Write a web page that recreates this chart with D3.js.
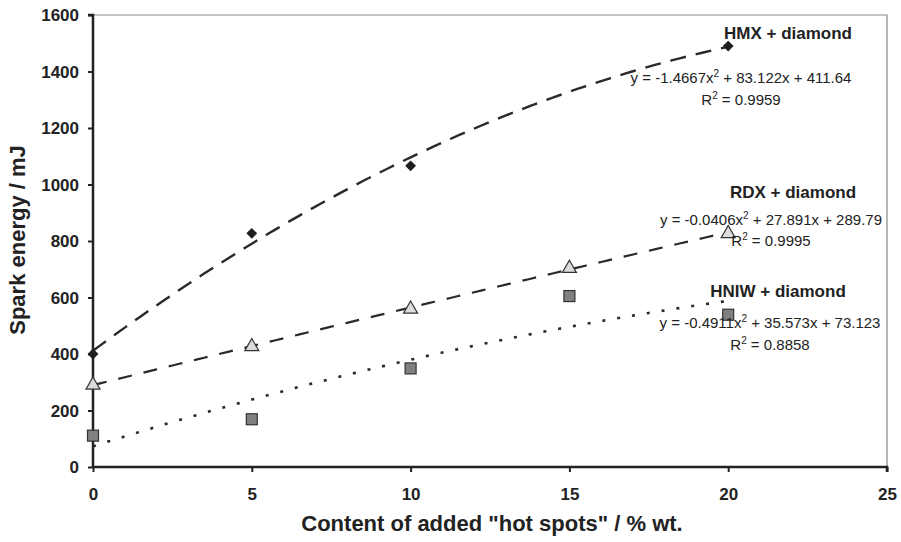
<!DOCTYPE html>
<html>
<head>
<meta charset="utf-8">
<script src="https://cdn.jsdelivr.net/npm/d3@7"></script>
<style>
  body { margin: 0; background: #fff; }
  text { font-family: "Liberation Sans", Arial, sans-serif; fill: #222; }
</style>
</head>
<body>
<div id="container"></div>
<script>
var w = 901, h = 542;

// data
var content = [0, 5, 10, 15, 20];
var hmx  = [400, 827, 1066, null, 1490];
var rdx  = [290, 426, 559, 703, 826];
var hniw = [111, 169, 349, 605, 539];

// trendline coefficients [a, b, c] for y = a x^2 + b x + c
var hmxFit  = [-1.4667, 83.122, 411.64];
var rdxFit  = [-0.0406, 27.891, 289.79];
var hniwFit = [-0.4911, 35.573, 73.123];

var xTicks = [0, 5, 10, 15, 20, 25];
var yTicks = [0, 200, 400, 600, 800, 1000, 1200, 1400, 1600];

var svg = d3.select("#container").append("svg")
  .attr("width", w).attr("height", h);

var x = d3.scaleLinear().domain([0, 25]).range([93, 887]);
var y = d3.scaleLinear().domain([0, 1600]).range([467, 15]);

// frame: grey top/right
svg.append("path")
  .attr("d", "M" + x(0) + "," + y(1600) + "H" + x(25) + "V" + y(0))
  .attr("fill", "none").attr("stroke", "#888").attr("stroke-width", 1.2);

// axes
var yAxis = svg.append("g")
  .attr("transform", "translate(" + x(0) + ",0)")
  .call(d3.axisLeft(y).tickValues(yTicks).tickFormat(d3.format("d")).tickSize(5).tickPadding(9));
var xAxis = svg.append("g")
  .attr("transform", "translate(0," + y(0) + ")")
  .call(d3.axisBottom(x).tickValues(xTicks).tickFormat(d3.format("d")).tickSize(5).tickPadding(16));

[yAxis, xAxis].forEach(function(g) {
  g.select(".domain").attr("stroke", "#222").attr("stroke-width", 2.5);
  g.selectAll(".tick line").attr("stroke", "#222").attr("stroke-width", 2);
  g.selectAll(".tick text")
    .style("font-family", "'Liberation Sans', Arial, sans-serif")
    .attr("font-size", 17).attr("font-weight", "bold").attr("fill", "#222");
});
yAxis.select(".domain").attr("d", "M-5," + y(1600) + "H0V" + y(0));
xAxis.select(".domain").attr("d", "M" + x(0) + ",0H" + x(25) + "V5");
yAxis.selectAll(".tick text").attr("dy", "0.35em");

// axis titles
svg.append("text")
  .attr("transform", "translate(25,240) rotate(-90)")
  .attr("text-anchor", "middle")
  .attr("font-size", 22).attr("font-weight", "bold")
  .text("Spark energy / mJ");

svg.append("text")
  .attr("x", 492).attr("y", 531)
  .attr("text-anchor", "middle")
  .attr("font-size", 22).attr("font-weight", "bold")
  .text('Content of added "hot spots" / % wt.');

// trendlines
function fitPoints(c) {
  return d3.range(0, 20.01, 0.25).map(function(v) {
    return [v, c[0] * v * v + c[1] * v + c[2]];
  });
}
var line = d3.line()
  .x(function(d) { return x(d[0]); })
  .y(function(d) { return y(d[1]); });

var fits = [
  { c: hmxFit,  dash: "16,10", width: 2.4 },
  { c: rdxFit,  dash: "14,12", width: 2.2 },
  { c: hniwFit, dash: "3,12",  width: 2.6 }
];
svg.append("g").selectAll("path")
  .data(fits)
  .enter().append("path")
  .attr("d", function(d) { return line(fitPoints(d.c)); })
  .attr("fill", "none")
  .attr("stroke", "#2a2a2a")
  .attr("stroke-width", function(d) { return d.width; })
  .attr("stroke-dasharray", function(d) { return d.dash; });

// markers
function pts(vals) {
  return content.map(function(c, i) { return [c, vals[i]]; })
    .filter(function(d) { return d[1] != null; });
}

svg.append("g").selectAll("path")
  .data(pts(hmx))
  .enter().append("path")
  .attr("d", d3.symbol().type(d3.symbolDiamond2).size(75))
  .attr("transform", function(d) { return "translate(" + x(d[0]) + "," + y(d[1]) + ")"; })
  .attr("fill", "#1e1e1e");

svg.append("g").selectAll("path")
  .data(pts(rdx))
  .enter().append("path")
  .attr("d", d3.symbol().type(d3.symbolTriangle).size(85))
  .attr("transform", function(d) { return "translate(" + x(d[0]) + "," + y(d[1]) + ")"; })
  .attr("fill", "#dcdcdc").attr("stroke", "#333").attr("stroke-width", 1.2);

svg.append("g").selectAll("rect")
  .data(pts(hniw))
  .enter().append("rect")
  .attr("x", function(d) { return x(d[0]) - 5.5; })
  .attr("y", function(d) { return y(d[1]) - 5.5; })
  .attr("width", 11).attr("height", 11)
  .attr("fill", "#808080").attr("stroke", "#333").attr("stroke-width", 1.2);

// labels and equations
var labels = [
  { t: "HMX + diamond", x: 788, y: 39 },
  { t: "RDX + diamond", x: 793, y: 198 },
  { t: "HNIW + diamond", x: 778, y: 297 }
];
svg.append("g").selectAll("text")
  .data(labels)
  .enter().append("text")
  .attr("x", function(d) { return d.x; })
  .attr("y", function(d) { return d.y; })
  .attr("text-anchor", "middle")
  .attr("font-size", 17).attr("font-weight", "bold")
  .text(function(d) { return d.t; });

function fmtEq(c) {
  return ["y = " + c[0] + "x", "2", " + " + c[1] + "x + " + c[2]];
}
var eqs = [
  { c: hmxFit,  r2: "0.9959", x: 741, y: 83, ry: 105 },
  { c: rdxFit,  r2: "0.9995", x: 771, y: 225, ry: 246 },
  { c: hniwFit, r2: "0.8858", x: 770, y: 328, ry: 350 }
];
var eg = svg.append("g");
eqs.forEach(function(e) {
  var parts = fmtEq(e.c);
  var t = eg.append("text")
    .attr("x", e.x).attr("y", e.y)
    .attr("text-anchor", "middle")
    .attr("font-size", 15);
  t.append("tspan").text(parts[0]);
  t.append("tspan").attr("dy", -6).attr("font-size", 10).text(parts[1]);
  t.append("tspan").attr("dy", 6).text(parts[2]);

  var r = eg.append("text")
    .attr("x", e.x).attr("y", e.ry)
    .attr("text-anchor", "middle")
    .attr("font-size", 15);
  r.append("tspan").text("R");
  r.append("tspan").attr("dy", -6).attr("font-size", 10).text("2");
  r.append("tspan").attr("dy", 6).text(" = " + e.r2);
});
</script>
</body>
</html>
